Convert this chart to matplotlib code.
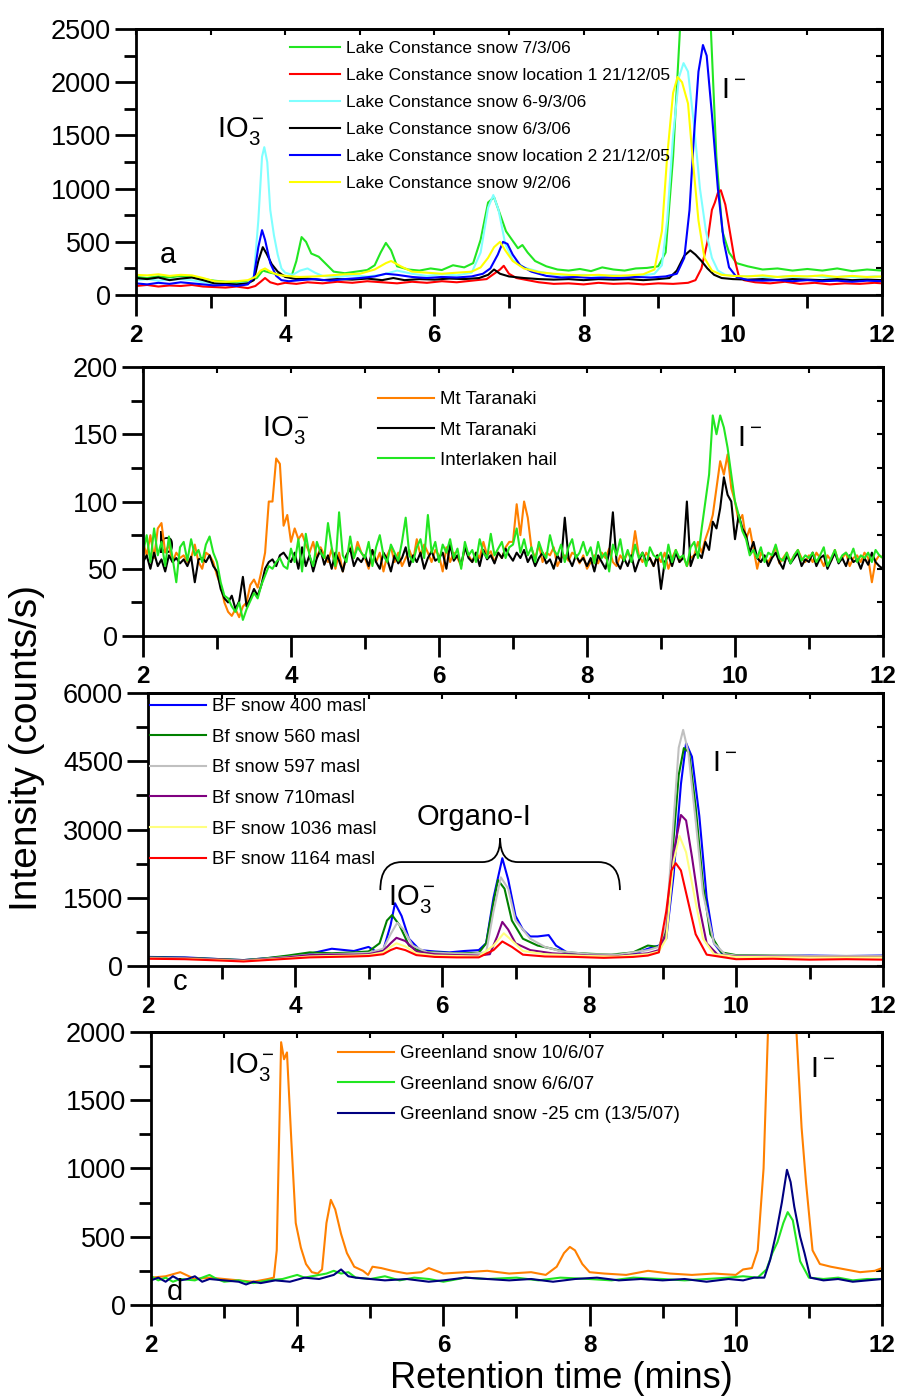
import matplotlib as mpl
import matplotlib.pyplot as plt
import numpy as np
from matplotlib.ticker import MultipleLocator
from matplotlib.path import Path
from matplotlib.patches import PathPatch

plt.rcParams['font.family'] = ['Liberation Sans', 'DejaVu Sans']
plt.rcParams['mathtext.fontset'] = 'custom'
plt.rcParams['mathtext.rm'] = 'Liberation Sans'

# ---------------- panel a : Lake Constance (x, counts/s) ----------------
a_labels = ['Lake Constance snow 7/3/06', 'Lake Constance snow location 1 21/12/05',
            'Lake Constance snow 6-9/3/06', 'Lake Constance snow 6/3/06',
            'Lake Constance snow location 2 21/12/05', 'Lake Constance snow 9/2/06']
a_colors = ['#22e622', '#ff0000', '#80ffff', '#000000', '#0000ff', '#ffff00']

a_green = [(2.0,170),(2.15,160),(2.3,175),(2.45,165),(2.6,180),(2.75,170),(2.9,150),(3.05,135),(3.2,125),
           (3.35,120),(3.5,130),(3.62,160),(3.7,230),(3.8,210),(3.9,195),(4.0,180),(4.08,165),(4.15,320),
           (4.22,545),(4.28,500),(4.35,390),(4.45,360),(4.55,290),(4.65,220),(4.8,205),(4.95,220),(5.1,235),
           (5.2,280),(5.28,400),(5.35,490),(5.42,420),(5.5,270),(5.65,240),(5.8,230),(5.95,250),(6.1,235),
           (6.25,280),(6.4,260),(6.52,300),(6.62,520),(6.72,870),(6.8,920),(6.88,760),(6.96,600),(7.05,510),
           (7.12,440),(7.18,470),(7.25,400),(7.35,320),(7.5,270),(7.65,240),(7.8,230),(7.95,245),(8.1,225),
           (8.25,260),(8.4,240),(8.55,230),(8.7,250),(8.85,255),(9.0,270),(9.1,400),(9.2,1300),(9.3,2600),
           (9.4,3300),(9.5,3500),(9.6,3300),(9.7,2600),(9.78,1300),(9.86,600),(9.95,400),(10.05,300),
           (10.2,270),(10.4,240),(10.6,250),(10.8,230),(11.0,245),(11.2,230),(11.4,250),(11.6,225),
           (11.8,240),(12.0,230)]
a_red = [(2.0,85),(2.15,95),(2.3,80),(2.45,90),(2.6,85),(2.75,95),(2.9,80),(3.05,75),(3.2,70),(3.35,80),
         (3.5,65),(3.6,85),(3.68,130),(3.73,160),(3.8,120),(3.9,100),(4.0,115),(4.15,105),(4.3,120),
         (4.5,110),(4.7,125),(4.9,115),(5.1,130),(5.3,120),(5.5,110),(5.7,125),(5.9,115),(6.1,130),
         (6.3,120),(6.5,135),(6.7,150),(6.8,200),(6.88,240),(6.93,275),(7.0,200),(7.1,160),(7.25,140),
         (7.4,120),(7.6,105),(7.8,110),(8.0,100),(8.2,115),(8.4,105),(8.6,110),(8.8,100),(9.0,110),
         (9.2,105),(9.4,115),(9.5,140),(9.58,250),(9.66,500),(9.72,800),(9.76,870),(9.8,960),(9.84,985),
         (9.9,850),(9.96,600),(10.02,350),(10.08,180),(10.15,140),(10.3,120),(10.5,110),(10.7,125),
         (10.9,105),(11.1,115),(11.3,100),(11.5,110),(11.7,105),(11.9,115),(12.0,110)]
a_cyan = [(2.0,140),(2.15,150),(2.3,135),(2.45,145),(2.6,150),(2.75,140),(2.9,120),(3.05,110),(3.2,100),
          (3.35,105),(3.5,115),(3.58,180),(3.64,700),(3.69,1300),(3.72,1390),(3.76,1250),(3.8,800),
          (3.85,560),(3.9,380),(3.95,250),(4.0,210),(4.1,190),(4.2,230),(4.3,250),(4.4,210),(4.5,180),
          (4.7,170),(4.9,185),(5.1,175),(5.3,190),(5.5,230),(5.7,200),(5.9,180),(6.1,195),(6.3,185),
          (6.5,210),(6.62,400),(6.72,820),(6.79,940),(6.86,800),(6.95,480),(7.05,330),(7.2,260),(7.4,220),
          (7.6,195),(7.8,185),(8.0,190),(8.2,180),(8.4,185),(8.6,175),(8.8,185),(8.95,200),(9.05,280),
          (9.12,700),(9.2,1500),(9.28,2050),(9.34,2180),(9.4,2100),(9.48,1600),(9.56,1000),(9.64,600),
          (9.72,350),(9.8,230),(9.9,190),(10.1,175),(10.3,180),(10.5,165),(10.7,175),(10.9,170),
          (11.1,180),(11.3,165),(11.5,175),(11.7,165),(11.9,175),(12.0,170)]
a_black = [(2.0,160),(2.15,150),(2.3,165),(2.45,140),(2.6,155),(2.75,165),(2.9,140),(3.05,110),(3.2,105),
           (3.35,100),(3.5,110),(3.58,140),(3.64,320),(3.7,450),(3.75,390),(3.82,290),(3.9,220),(4.0,170),
           (4.15,150),(4.3,155),(4.5,140),(4.7,150),(4.9,145),(5.1,155),(5.3,140),(5.45,160),(5.6,140),
           (5.8,150),(6.0,145),(6.2,155),(6.4,150),(6.6,160),(6.72,190),(6.8,240),(6.88,200),(7.0,175),
           (7.2,160),(7.4,150),(7.6,145),(7.8,150),(8.0,140),(8.2,150),(8.4,145),(8.6,150),(8.8,140),
           (9.0,150),(9.15,160),(9.25,230),(9.35,370),(9.43,420),(9.5,380),(9.58,320),(9.66,250),
           (9.75,190),(9.85,160),(10.0,150),(10.2,145),(10.4,150),(10.6,140),(10.8,150),(11.0,145),
           (11.2,140),(11.4,150),(11.6,140),(11.8,145),(12.0,140)]
a_blue = [(2.0,110),(2.15,100),(2.3,115),(2.45,105),(2.6,120),(2.75,110),(2.9,100),(3.05,90),(3.2,95),
          (3.35,85),(3.5,100),(3.58,170),(3.64,450),(3.69,610),(3.73,520),(3.8,300),(3.88,180),(3.95,140),
          (4.05,130),(4.2,140),(4.4,150),(4.6,135),(4.8,150),(5.0,160),(5.2,175),(5.35,200),(5.5,190),
          (5.7,170),(5.9,160),(6.1,170),(6.3,165),(6.5,175),(6.65,200),(6.75,250),(6.85,380),(6.92,500),
          (6.98,480),(7.05,380),(7.15,280),(7.3,220),(7.5,180),(7.7,165),(7.9,170),(8.1,160),(8.3,165),
          (8.5,160),(8.7,170),(8.9,165),(9.1,175),(9.25,200),(9.35,350),(9.42,800),(9.48,1500),
          (9.54,2100),(9.6,2350),(9.65,2250),(9.72,1700),(9.8,1000),(9.88,500),(9.95,260),(10.05,170),
          (10.2,140),(10.4,135),(10.6,140),(10.8,130),(11.0,140),(11.2,130),(11.4,135),(11.6,125),
          (11.8,135),(12.0,130)]
a_yellow = [(2.0,190),(2.15,185),(2.3,195),(2.45,180),(2.6,190),(2.75,185),(2.9,160),(3.05,130),(3.2,125),
            (3.35,130),(3.5,140),(3.6,170),(3.67,230),(3.73,250),(3.8,220),(3.9,190),(4.0,180),(4.2,170),
            (4.4,175),(4.6,185),(4.8,195),(5.0,200),(5.2,240),(5.35,300),(5.42,320),(5.55,270),(5.7,220),
            (5.9,210),(6.1,200),(6.3,210),(6.5,220),(6.62,260),(6.72,350),(6.8,450),(6.88,500),(6.95,420),
            (7.05,320),(7.2,250),(7.4,215),(7.6,200),(7.8,190),(8.0,185),(8.2,190),(8.4,180),(8.6,185),
            (8.8,195),(8.95,240),(9.05,600),(9.12,1300),(9.2,1900),(9.26,2050),(9.32,2000),(9.4,1800),
            (9.46,1300),(9.54,700),(9.62,350),(9.72,230),(9.85,190),(10.0,180),(10.2,175),(10.4,185),
            (10.6,170),(10.8,180),(11.0,175),(11.2,185),(11.4,170),(11.6,180),(11.8,170),(12.0,175)]
a_series = [a_green, a_red, a_cyan, a_black, a_blue, a_yellow]

# ---------------- panel b : Mt Taranaki / Interlaken (0.05 min steps) ----------------
b_labels = ['Mt Taranaki', 'Mt Taranaki', 'Interlaken hail']
b_colors = ['#ff8000', '#000000', '#22e622']
b_time = np.arange(201) * 0.05 + 2.0
b_orange = [70, 60, 75, 58, 80, 84, 62, 68, 55, 62, 58, 60, 55, 58, 68, 55, 50, 62, 60, 55,
            45, 38, 25, 18, 15, 20, 14, 22, 25, 38, 42, 36, 48, 62, 100, 100, 132, 128, 82, 90,
            70, 80, 72, 76, 68, 62, 70, 58, 66, 60, 55, 65, 50, 62, 48, 60, 66, 58, 70, 62,
            58, 50, 64, 55, 62, 48, 60, 66, 55, 62, 52, 58, 64, 56, 72, 60, 68, 62, 55, 64,
            60, 48, 66, 55, 62, 58, 52, 66, 60, 55, 62, 58, 70, 60, 63, 55, 62, 58, 66, 70,
            70, 98, 75, 100, 88, 65, 58, 68, 55, 62, 60, 66, 52, 58, 60, 56, 62, 60, 54, 60,
            50, 55, 60, 54, 62, 58, 65, 55, 52, 60, 56, 62, 58, 78, 60, 55, 62, 58, 52, 60,
            55, 62, 50, 58, 64, 55, 60, 52, 58, 60, 70, 62, 72, 80, 90, 110, 130, 120, 135, 110,
            100, 85, 90, 72, 80, 65, 50, 62, 58, 55, 60, 66, 54, 58, 62, 55, 60, 64, 58, 55,
            60, 55, 62, 58, 52, 60, 56, 64, 55, 58, 62, 52, 58, 60, 55, 62, 58, 40, 56, 60,
            58]
b_black = [55, 60, 50, 62, 52, 57, 48, 60, 55, 58, 54, 57, 52, 59, 40, 57, 58, 55, 60, 52,
           48, 35, 28, 25, 30, 20, 26, 44, 22, 28, 35, 30, 38, 50, 55, 57, 52, 60, 62, 58,
           55, 62, 50, 66, 52, 60, 48, 58, 64, 53, 60, 50, 62, 56, 48, 60, 65, 52, 58, 55,
           60, 52, 64, 55, 50, 62, 57, 48, 60, 54, 58, 66, 52, 60, 55, 62, 50, 58, 63, 56,
           58, 62, 50, 68, 56, 60, 53, 66, 58, 55, 62, 52, 64, 57, 60, 54, 62, 58, 65, 60,
           56, 62, 58, 64, 55, 60, 52, 58, 62, 54, 57, 50, 60, 55, 88, 58, 52, 60, 55, 58,
           52, 58, 48, 60, 55, 50, 62, 92, 55, 50, 58, 52, 60, 48, 56, 62, 55, 58, 52, 60,
           35, 55, 60, 52, 62, 55, 58, 100, 52, 60, 62, 58, 70, 64, 85, 80, 95, 118, 105, 100,
           72, 90, 80, 75, 62, 70, 58, 55, 60, 52, 58, 62, 55, 50, 60, 54, 58, 62, 52, 57,
           55, 62, 52, 58, 60, 50, 56, 62, 54, 58, 52, 60, 55, 57, 50, 58, 53, 62, 55, 52,
           50]
b_green = [62, 75, 55, 80, 60, 70, 52, 74, 58, 40, 66, 70, 56, 72, 60, 64, 55, 68, 74, 62,
           55, 40, 30, 28, 22, 18, 25, 12, 20, 26, 32, 28, 38, 45, 52, 50, 55, 58, 52, 50,
           65, 55, 72, 48, 76, 60, 52, 70, 62, 58, 84, 66, 52, 92, 60, 55, 74, 58, 66, 62,
           58, 70, 52, 66, 75, 60, 55, 68, 62, 56, 70, 88, 60, 55, 66, 72, 58, 90, 62, 70,
           55, 68, 62, 72, 58, 65, 50, 70, 60, 64, 55, 72, 62, 58, 76, 60, 65, 70, 58, 66,
           68, 80, 62, 72, 60, 66, 55, 70, 62, 58, 75, 64, 60, 68, 55, 66, 72, 58, 62, 70,
           60, 66, 54, 70, 58, 62, 48, 68, 60, 72, 56, 64, 55, 68, 58, 62, 52, 66, 60, 58,
           62, 50, 68, 55, 64, 58, 60, 52, 66, 70, 58, 80, 100, 120, 164, 150, 164, 155, 140, 120,
           100, 90, 78, 72, 60, 64, 58, 66, 55, 62, 60, 68, 58, 56, 62, 54, 60, 64, 56, 60,
           58, 62, 55, 60, 66, 52, 58, 64, 55, 60, 62, 58, 65, 55, 60, 58, 62, 55, 64, 60,
           58]
b_series = [b_orange, b_black, b_green]

# ---------------- panel c : BF snow ----------------
c_labels = ['BF snow 400 masl', 'Bf snow 560 masl', 'Bf snow 597 masl', 'Bf snow 710masl',
            'BF snow 1036 masl', 'BF snow 1164 masl']
c_colors = ['#0000ff', '#008000', '#c0c0c0', '#800080', '#ffff80', '#ff0000']
c_blue = [(2.0,200),(2.5,190),(3.0,150),(3.3,130),(3.6,170),(3.9,210),(4.2,270),(4.5,380),(4.8,330),(5.0,420),
          (5.1,320),(5.2,350),(5.3,900),(5.36,1380),(5.45,1100),(5.55,600),(5.7,350),(5.9,320),(6.1,300),
          (6.3,330),(6.5,350),(6.6,500),(6.7,1500),(6.82,2370),(6.9,1900),(7.0,1100),(7.1,800),(7.2,650),
          (7.3,650),(7.45,680),(7.55,450),(7.7,300),(8.0,250),(8.3,230),(8.6,260),(8.8,380),(8.95,450),
          (9.05,600),(9.15,2000),(9.25,4000),(9.32,4900),(9.4,4600),(9.5,3300),(9.6,1500),(9.7,500),
          (9.82,250),(10.0,230),(10.5,220),(11.0,230),(11.5,220),(12.0,230)]
c_green = [(2.0,190),(2.5,180),(3.0,150),(3.3,130),(3.6,170),(3.9,230),(4.2,300),(4.5,280),(4.8,300),(5.0,320),
           (5.15,500),(5.25,1000),(5.32,1120),(5.42,900),(5.55,450),(5.7,320),(5.9,300),(6.2,280),(6.5,290),
           (6.6,500),(6.7,1400),(6.76,1890),(6.85,1700),(6.95,1000),(7.1,600),(7.3,450),(7.5,380),(7.7,300),
           (8.0,270),(8.3,250),(8.6,300),(8.8,450),(8.95,420),(9.05,800),(9.15,2800),(9.22,4200),(9.29,4790),
           (9.36,4700),(9.45,3500),(9.55,1800),(9.65,700),(9.8,300),(10.0,240),(10.5,230),(11.0,220),
           (12.0,220)]
c_gray = [(2.0,180),(2.5,170),(3.0,140),(3.3,120),(3.6,160),(3.9,200),(4.2,250),(4.5,260),(4.8,280),(5.0,290),
          (5.2,380),(5.3,700),(5.39,950),(5.48,800),(5.6,450),(5.8,300),(6.1,280),(6.4,270),(6.6,300),
          (6.7,1200),(6.8,1950),(6.9,1700),(7.0,1000),(7.2,600),(7.4,420),(7.6,330),(8.0,260),(8.4,250),
          (8.8,350),(8.95,420),(9.05,900),(9.15,3200),(9.22,4800),(9.28,5190),(9.35,4700),(9.45,3200),
          (9.55,1600),(9.7,500),(9.85,260),(10.0,230),(11.0,220),(12.0,220)]
c_purple = [(2.0,180),(2.5,170),(3.0,140),(3.3,120),(3.6,150),(3.9,190),(4.2,240),(4.5,250),(4.8,250),(5.0,260),
            (5.2,330),(5.3,500),(5.38,620),(5.5,550),(5.65,320),(5.9,260),(6.2,240),(6.5,230),(6.65,260),
            (6.75,650),(6.82,970),(6.9,800),(7.0,500),(7.2,350),(7.5,280),(8.0,230),(8.4,220),(8.8,280),
            (8.95,350),(9.05,700),(9.15,2500),(9.25,3320),(9.32,3200),(9.4,2400),(9.5,1300),(9.6,500),
            (9.75,250),(10.0,210),(11.0,200),(12.0,200)]
c_yellow = [(2.0,170),(2.5,160),(3.0,130),(3.3,110),(3.6,140),(3.9,170),(4.2,210),(4.5,220),(4.8,230),(5.0,240),
            (5.2,300),(5.3,420),(5.38,500),(5.5,430),(5.65,280),(5.9,230),(6.2,220),(6.5,210),(6.7,450),
            (6.84,720),(6.95,560),(7.1,330),(7.4,260),(8.0,220),(8.4,210),(8.8,260),(8.95,320),(9.05,600),
            (9.15,2300),(9.23,2860),(9.32,2500),(9.45,1400),(9.55,600),(9.7,260),(10.0,200),(11.0,190),
            (12.0,190)]
c_red = [(2.0,160),(2.5,150),(3.0,120),(3.3,100),(3.6,130),(3.9,160),(4.2,190),(4.5,200),(4.8,210),(5.0,220),
         (5.2,260),(5.3,350),(5.38,400),(5.5,350),(5.65,240),(5.9,200),(6.2,190),(6.5,190),(6.7,350),
         (6.82,540),(6.95,420),(7.1,250),(7.4,210),(7.8,200),(8.2,180),(8.6,200),(8.8,230),(8.95,300),
         (9.05,1200),(9.12,2100),(9.18,2260),(9.25,2100),(9.35,1400),(9.45,700),(9.6,250),(9.8,200),
         (10.0,150),(10.5,160),(11.0,140),(11.5,150),(12.0,140)]
c_series = [c_blue, c_green, c_gray, c_purple, c_yellow, c_red]

# ---------------- panel d : Greenland ----------------
d_labels = ['Greenland snow 10/6/07', 'Greenland snow 6/6/07', 'Greenland snow -25 cm (13/5/07)']
d_colors = ['#ff8000', '#22e622', '#000080']
d_orange = [(2.0,200),(2.2,210),(2.4,240),(2.6,190),(2.8,200),(3.0,190),(3.2,180),(3.4,170),(3.6,190),
            (3.68,200),(3.72,400),(3.78,1925),(3.82,1800),(3.86,1850),(3.92,1200),(3.98,600),(4.05,420),
            (4.12,300),(4.2,240),(4.28,230),(4.34,260),(4.4,600),(4.46,770),(4.52,700),(4.6,520),(4.68,380),
            (4.78,280),(4.9,250),(4.97,220),(5.03,280),(5.15,270),(5.3,250),(5.5,230),(5.7,240),(5.8,270),
            (6.0,230),(6.3,240),(6.6,250),(6.9,230),(7.2,240),(7.4,220),(7.55,280),(7.65,380),(7.73,425),
            (7.8,400),(7.9,300),(8.0,240),(8.2,230),(8.5,220),(8.8,250),(9.1,230),(9.4,220),(9.7,230),
            (10.0,220),(10.1,260),(10.22,270),(10.3,400),(10.38,1000),(10.44,2000),(10.55,3500),
            (10.65,4000),(10.75,3500),(10.83,2000),(10.9,1300),(10.96,900),(11.05,400),(11.15,300),
            (11.3,280),(11.5,260),(11.7,240),(11.9,250),(12.0,270)]
d_green = [(2.0,210),(2.1,180),(2.2,200),(2.3,170),(2.4,190),(2.6,180),(2.8,220),(2.9,190),(3.0,170),(3.2,180),
           (3.4,160),(3.6,180),(3.8,190),(4.0,220),(4.1,200),(4.2,210),(4.4,230),(4.5,250),(4.6,230),(4.7,240),
           (4.8,200),(5.0,190),(5.2,210),(5.4,180),(5.6,200),(5.8,190),(6.0,170),(6.3,200),(6.6,190),(7.0,200),
           (7.3,180),(7.6,200),(8.0,190),(8.3,180),(8.6,200),(9.0,190),(9.3,180),(9.6,190),(9.9,200),
           (10.1,210),(10.3,200),(10.42,260),(10.5,380),(10.57,460),(10.65,600),(10.71,680),(10.78,620),
           (10.88,320),(10.95,250),(11.0,200),(11.2,190),(11.4,200),(11.6,180),(11.8,190),(12.0,190)]
d_navy = [(2.0,180),(2.1,200),(2.2,170),(2.3,210),(2.4,180),(2.5,190),(2.6,210),(2.7,170),(2.8,190),(3.0,180),
          (3.2,170),(3.3,150),(3.4,170),(3.5,160),(3.7,180),(3.9,170),(4.1,200),(4.3,190),(4.5,220),(4.6,260),
          (4.7,210),(4.8,200),(5.0,190),(5.2,180),(5.5,190),(5.8,170),(6.0,180),(6.3,200),(6.6,190),(6.9,180),
          (7.2,190),(7.5,170),(7.8,190),(8.1,200),(8.4,180),(8.7,190),(9.0,180),(9.3,190),(9.6,170),(9.9,190),
          (10.1,180),(10.25,200),(10.39,200),(10.47,330),(10.55,520),(10.63,750),(10.70,990),(10.75,900),
          (10.80,720),(10.88,500),(10.94,380),(11.02,200),(11.2,180),(11.4,190),(11.6,170),(11.8,180),
          (12.0,190)]
d_series = [d_orange, d_green, d_navy]


def style_axes(ax, ymax, ystep):
    ax.set_xlim(2, 12)
    ax.set_ylim(0, ymax)
    ax.set_xticks(range(2, 13, 2))
    ax.xaxis.set_minor_locator(MultipleLocator(1))
    ax.set_yticks(np.arange(0, ymax + 1, ystep))
    ax.yaxis.set_minor_locator(MultipleLocator(ystep / 2))
    ax.tick_params(which='major', direction='out', length=15, width=2, labelsize=19.5, pad=3)
    ax.tick_params(which='minor', direction='out', length=9, width=2)
    ax.tick_params(axis='x', which='major', pad=6)
    for lbl in ax.get_xticklabels():
        lbl.set_fontweight('bold')
        lbl.set_fontsize(17.5)
    for s in ax.spines.values():
        s.set_linewidth(2)
    top = ax.secondary_xaxis('top')
    top.set_xticks(range(2, 13, 1))
    top.tick_params(direction='in', length=4, width=1.5, labeltop=False)
    right = ax.secondary_yaxis('right')
    right.set_yticks(np.arange(0, ymax + 1, ystep / 2))
    right.tick_params(direction='in', length=4, width=1.5, labelright=False)
    for sec in (top, right):
        for s in sec.spines.values():
            s.set_linewidth(2)


def add_lines(ax, series, colors, labels, step_time=None):
    for s, c, l in zip(series, colors, labels):
        if step_time is None:
            xy = np.array(s)
            ax.plot(xy[:, 0], xy[:, 1], color=c, lw=1.5, label=l)
        else:
            ax.plot(step_time, s, color=c, lw=1.5, label=l)


def add_legend(ax, fig, px, py, fs, hl, sp):
    ax.legend(loc='upper left', bbox_to_anchor=(px / 901, 1 - py / 1397),
              bbox_transform=fig.transFigure, frameon=False, fontsize=fs,
              handlelength=hl, handletextpad=0.3, labelspacing=sp,
              borderpad=0, borderaxespad=0)


def ion(ax, x, y, txt, size=21):
    ax.text(x, y, txt, fontsize=size, ha='left', va='baseline')


fig = plt.figure(figsize=(9.01, 13.97), dpi=100)
ax1 = fig.add_axes([0.1509, 0.7888, 0.8280, 0.1904])
ax2 = fig.add_axes([0.1587, 0.5447, 0.8213, 0.1926])
ax3 = fig.add_axes([0.1643, 0.3085, 0.8158, 0.1954])
ax4 = fig.add_axes([0.1676, 0.0659, 0.8113, 0.1954])

# a
add_lines(ax1, a_series, a_colors, a_labels)
style_axes(ax1, 2500, 500)
add_legend(ax1, fig, 290, 41, 12.5, 2.9, 0.68)
ion(ax1, 3.09, 1485, r'$\mathregular{IO_3^-}$')
ion(ax1, 9.84, 1850, r'$\mathregular{I^-}$')
ax1.text(2.32, 300, 'a', fontsize=21, va='baseline')

# b
ax2.text(2.19, 62, 'b', fontsize=21, va='baseline', zorder=0)
add_lines(ax2, b_series, b_colors, b_labels, step_time=b_time)
style_axes(ax2, 200, 50)
add_legend(ax2, fig, 378, 391, 13.5, 3.0, 0.71)
ion(ax2, 3.61, 149, r'$\mathregular{IO_3^-}$')
ion(ax2, 10.03, 141, r'$\mathregular{I^-}$')

# c
add_lines(ax3, c_series, c_colors, c_labels)
style_axes(ax3, 6000, 1500)
add_legend(ax3, fig, 150, 698, 13.5, 3.0, 0.72)
ion(ax3, 5.27, 1340, r'$\mathregular{IO_3^-}$')
ion(ax3, 9.67, 4285, r'$\mathregular{I^-}$')
ax3.text(5.65, 3100, 'Organo-I', fontsize=21, va='baseline')
ax3.text(2.34, -527, 'c', fontsize=21, va='baseline')
brace = Path([(5.16, 1670), (5.16, 2285), (5.45, 2285), (6.55, 2285),
              (6.79, 2285), (6.79, 2810), (6.79, 2285), (7.03, 2285),
              (8.13, 2285), (8.42, 2285), (8.42, 1670)],
             [Path.MOVETO, Path.CURVE3, Path.CURVE3, Path.LINETO,
              Path.CURVE3, Path.CURVE3, Path.CURVE3, Path.CURVE3,
              Path.LINETO, Path.CURVE3, Path.CURVE3])
ax3.add_patch(PathPatch(brace, fill=False, lw=1.3, color='black'))

# d
add_lines(ax4, d_series, d_colors, d_labels)
style_axes(ax4, 2000, 500)
add_legend(ax4, fig, 338, 1045, 13.5, 3.0, 0.72)
ion(ax4, 3.04, 1700, r'$\mathregular{IO_3^-}$')
ion(ax4, 11.01, 1670, r'$\mathregular{I^-}$')
ax4.text(2.22, 37, 'd', fontsize=21, va='baseline')

fig.text(27 / 901, 1 - 748 / 1397, 'Intensity (counts/s)', rotation=90,
         fontsize=28, ha='center', va='center')
fig.text(561 / 901, 1 - 1378 / 1397, 'Retention time (mins)',
         fontsize=26, ha='center', va='center')

fig.savefig('out.png', dpi=100)
